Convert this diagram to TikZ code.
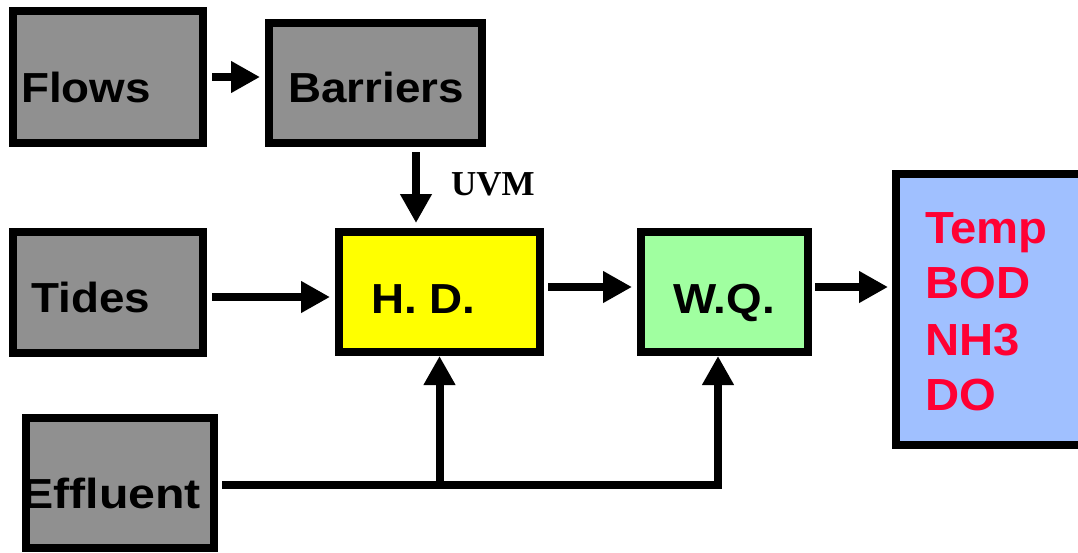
\documentclass[tikz,border=0pt]{standalone}
\usepackage{fontspec}
\setmainfont{Liberation Sans}
\newfontfamily\boxfont[FakeStretch=1.09]{Liberation Sans}
\newfontfamily\wideboxfont[FakeStretch=1.15]{Liberation Sans}
\newfontfamily\listfont[FakeStretch=1.05]{Liberation Sans}
\newfontfamily\uvmfont{Liberation Serif}
\usepackage{tikz}
\usetikzlibrary{arrows.meta}
\usepackage{xcolor}
\definecolor{boxgray}{RGB}{144,144,144}
\definecolor{hdyellow}{RGB}{255,255,0}
\definecolor{wqgreen}{RGB}{160,255,160}
\definecolor{outblue}{RGB}{160,192,255}
\definecolor{listred}{RGB}{255,0,51}

\begin{document}
\begin{tikzpicture}[x=1pt,y=-1pt,
  block/.style={draw=black, line width=8pt, inner sep=0pt},
  lbl/.style={font=\boxfont\bfseries\fontsize{42}{42}\selectfont, inner sep=0pt, anchor=base west},
  outlbl/.style={font=\listfont\bfseries\fontsize{45}{45}\selectfont, text=listred, inner sep=0pt, anchor=base west},
  flow/.style={line width=8pt, -{Triangle[length=29pt,width=30pt]}}]
\useasboundingbox (0,0) rectangle (1078,552);
% boxes
\node[block, fill=boxgray, minimum width=190pt, minimum height=132pt] (flows) at (108,77) {};
\node[block, fill=boxgray, minimum width=213pt, minimum height=120pt] (barriers) at (375.5,83) {};
\node[block, fill=boxgray, minimum width=190pt, minimum height=121pt] (tides) at (108,292.5) {};
\node[block, fill=hdyellow, minimum width=201pt, minimum height=120pt] (hd) at (439.5,292) {};
\node[block, fill=wqgreen, minimum width=167pt, minimum height=120pt] (wq) at (724.5,292) {};
\node[block, fill=outblue, minimum width=204pt, minimum height=271pt] (out) at (998,309.5) {};
\node[block, fill=boxgray, minimum width=188pt, minimum height=130pt] (effluent) at (120,483) {};
% labels
\node[lbl] (flowsT) at (21,102) {Flows};
\node[lbl] (barriersT) at (288,102) {Barriers};
\node[lbl] (tidesT) at (31,312) {Tides};
\node[lbl] (hdT) at (371,313) {H. D.};
\node[lbl] (wqT) at (673,313) {W.Q.};
\node[lbl, font=\wideboxfont\bfseries\fontsize{42}{42}\selectfont] (effluentT) at (21,508) {Effluent};
\node[font=\uvmfont\bfseries\fontsize{35}{35}\selectfont, inner sep=0pt, anchor=base west] (uvm) at (451,195) {UVM};
\node[outlbl] (temp) at (925,243) {Temp};
\node[outlbl] (bod) at (925,298) {BOD};
\node[outlbl] (nh3) at (925,355) {NH3};
\node[outlbl] (do) at (925,410) {DO};
% connectors
\coordinate (uvmx) at (416,0);
\coordinate (wqin) at (718,0);
\draw[flow, shorten <=5pt, shorten >=5pt] (flows.east) -- (flows.east -| barriers.west);
\draw[flow, shorten <=5pt, shorten >=5pt] (uvmx |- barriers.south) -- (uvmx |- hd.north);
\draw[flow, shorten <=5pt, shorten >=5pt] ([yshift=-4.5pt]tides.east) -- ([yshift=-4.5pt]tides.east -| hd.west);
\draw[flow, shorten <=4pt, shorten >=5pt] ([yshift=5pt]hd.east) -- ([yshift=5pt]hd.east -| wq.west);
\draw[flow, shorten <=3pt, shorten >=4pt] ([yshift=5pt]wq.east) -- ([yshift=5pt]wq.east -| out.west);
\draw[flow] ([xshift=4pt,yshift=-2pt]effluent.east) -| (wqin |- wq.south);
\draw[flow] (hd.south |- effluent.east) -- (hd.south);
\end{tikzpicture}
\end{document}
